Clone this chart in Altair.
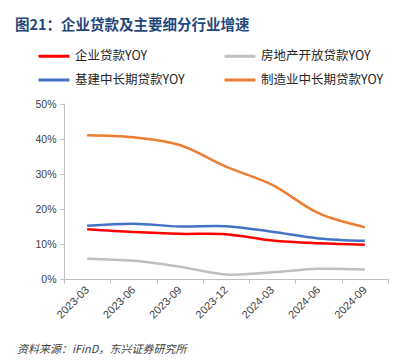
import altair as alt
import pandas as pd

quarters = ["2023-03", "2023-06", "2023-09", "2023-12", "2024-03", "2024-06", "2024-09"]
series_names = ["企业贷款YOY", "基建中长期贷款YOY", "房地产开放贷款YOY", "制造业中长期贷款YOY"]
series_colors = ["#FF0000", "#4472C4", "#BFBFBF", "#ED7D31"]

corp = [14.2, 13.4, 12.9, 12.8, 11.0, 10.2, 9.8]
infra = [15.2, 15.8, 15.0, 15.1, 13.5, 11.6, 10.9]
realestate = [5.8, 5.2, 3.5, 1.3, 1.9, 2.9, 2.7]
manuf = [41.1, 40.5, 38.3, 32.1, 26.9, 18.8, 14.8]

rows = []
for name, vals in zip(series_names, [corp, infra, realestate, manuf]):
    for q, v in zip(quarters, vals):
        rows.append({"quarter": q, "series": name, "value": v})
df = pd.DataFrame(rows)

FONT = "Noto Sans CJK SC"
LATIN = "Liberation Sans"

lines = alt.Chart(df).mark_line(strokeWidth=2.5, interpolate="catmull-rom").encode(
    x=alt.X("quarter:N", sort=quarters,
            scale=alt.Scale(paddingInner=0, paddingOuter=0),
            axis=alt.Axis(title=None, labelAngle=315, labelAlign="right", labelBaseline="middle",
                          tickBand="extent", tickSize=4, tickColor="#BFBFBF",
                          domainColor="#BFBFBF", labelFont=LATIN, labelFontSize=11,
                          labelColor="#404040", labelPadding=5, grid=False)),
    y=alt.Y("value:Q", scale=alt.Scale(domain=[0, 50]),
            axis=alt.Axis(title=None, values=[0, 10, 20, 30, 40, 50],
                          labelExpr="datum.value + '%'", tickSize=4, tickColor="#BFBFBF",
                          domainColor="#BFBFBF", labelFont=LATIN, labelFontSize=10.5,
                          labelColor="#404040", labelPadding=4, grid=False)),
    color=alt.Color("series:N", sort=series_names,
                    scale=alt.Scale(domain=series_names, range=series_colors),
                    legend=alt.Legend(title=None, orient="none", legendX=-27, legendY=-65,
                                      columns=2, columnPadding=33, rowPadding=-3,
                                      symbolType="stroke", symbolSize=961, symbolStrokeWidth=3,
                                      labelFont=FONT, labelFontSize=12.5, labelColor="#262626",
                                      labelOffset=4)),
)

source_df = pd.DataFrame({"t": ["资料来源：iFinD，东兴证券研究所"]})
source = alt.Chart(source_df).mark_text(
    align="left", baseline="middle", fontStyle="italic", font=FONT, fontSize=11, color="#404040"
).encode(x=alt.value(-47), y=alt.value(246), text="t:N")

chart = alt.layer(lines, source).properties(
    width=324, height=175,
    autosize=alt.AutoSizeParams(type="none"),
    padding={"left": 56, "top": 96, "right": 1, "bottom": 82},
    title=alt.TitleParams("图21：企业贷款及主要细分行业增速", anchor="start", frame="group",
                          dx=-49, offset=6, font=FONT, fontSize=14.5, fontWeight="bold",
                          color="#1F497D"),
).configure_view(stroke=None)

chart.save("out.html", embed_options={"renderer": "svg", "actions": False})
